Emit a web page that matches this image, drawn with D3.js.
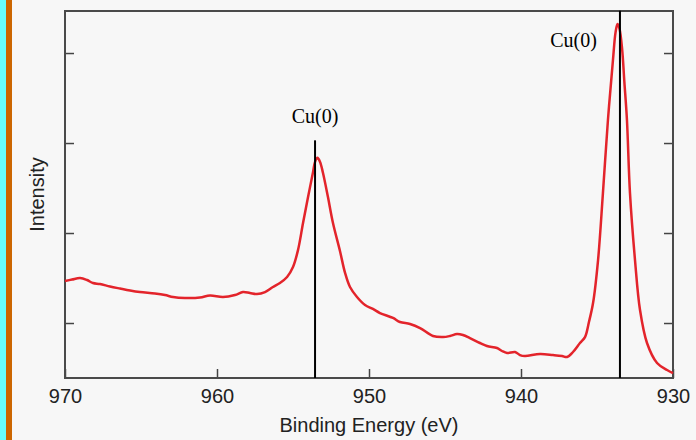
<!DOCTYPE html>
<html>
<head>
<meta charset="utf-8">
<title>Cu 2p spectrum</title>
<style>
    body { margin: 0; background: #f7f7f7; }
    svg { display: block; }
    .tick text { font-family: 'Liberation Sans', Arial, sans-serif; font-size: 20px; fill: #222; }
    .tick line { stroke: #444; stroke-width: 1.5px; }
</style>
</head>
<body>
<div id="chart"></div>
<script src="https://d3js.org/d3.v7.min.js"></script>
<script>
// binding energy (eV)
var energy = [970.00, 969.54, 969.01, 968.55, 968.16, 967.70, 967.04, 966.38, 965.72, 965.07,
    964.08, 963.42, 962.89, 962.11, 961.12, 960.46, 959.61, 958.82, 958.29, 957.83,
    957.37, 956.84, 956.32, 955.86, 955.39, 955.00, 954.67, 954.34, 954.01, 953.68,
    953.55, 953.39, 953.22, 953.03, 952.70, 952.37, 951.91, 951.58, 951.25, 950.79, 950.26,
    949.74, 949.28, 948.42, 947.96, 947.30, 946.64, 945.79, 945.13, 944.67, 944.21,
    943.82, 943.36, 942.70, 942.24, 941.58, 941.25, 940.92, 940.39, 940.07, 939.74,
    938.75, 937.89, 937.30, 936.97, 936.58, 936.12, 935.79, 935.53, 935.26, 934.93,
    934.61, 934.28, 933.95, 933.78, 933.65, 933.52, 933.35, 933.20, 933.03, 932.83, 932.50,
    932.17, 931.71, 931.05, 930.39, 930.00];

// intensity (arbitrary units)
var intensity = [1.467, 1.483, 1.500, 1.478, 1.444, 1.433, 1.406, 1.383, 1.361, 1.344,
    1.328, 1.311, 1.289, 1.278, 1.283, 1.306, 1.289, 1.311, 1.344, 1.333,
    1.322, 1.344, 1.400, 1.444, 1.511, 1.622, 1.811, 2.111, 2.400, 2.678,
    2.790, 2.835, 2.790, 2.670, 2.400, 2.111, 1.800, 1.560, 1.400, 1.289, 1.200,
    1.156, 1.111, 1.056, 1.011, 0.989, 0.944, 0.856, 0.844, 0.856, 0.878,
    0.867, 0.833, 0.778, 0.744, 0.722, 0.689, 0.667, 0.678, 0.644, 0.633,
    0.656, 0.644, 0.633, 0.622, 0.678, 0.778, 0.844, 1.011, 1.222, 1.700,
    2.444, 3.256, 3.922, 4.230, 4.322, 4.270, 4.050, 3.680, 3.256, 2.444, 1.700,
    1.144, 0.778, 0.556, 0.478, 0.444];

var xTicks = [970, 960, 950, 940, 930];
var yTicks = [1, 2, 3, 4];

// peak markers
var peakEnergy = [953.55, 933.49];
var peakLabel = ["Cu(0)", "Cu(0)"];
var peakLineTop = [3.03, 4.47];

var width = 696, height = 440;
var plotLeft = 65, plotRight = 673, plotTop = 11, plotBottom = 378;

var x = d3.scaleLinear().domain([970, 930]).range([plotLeft, plotRight]);
var y = d3.scaleLinear().domain([0.389, 4.467]).range([plotBottom, plotTop]);

var svg = d3.select("#chart").append("svg")
    .attr("width", width)
    .attr("height", height);

// coloured strips on the left edge
svg.append("rect").attr("x", 0).attr("y", 0).attr("width", 6).attr("height", height).attr("fill", "#66ffff");
svg.append("rect").attr("x", 6).attr("y", 0).attr("width", 6).attr("height", height).attr("fill", "#cc6600");

// axes (ticks point inwards)
svg.append("g")
    .attr("transform", "translate(0," + plotBottom + ")")
    .call(d3.axisBottom(x).tickValues(xTicks).tickSize(-9).tickPadding(11).tickFormat(d3.format("d")))
    .call(function(g){ g.select(".domain").remove(); });

svg.append("g")
    .attr("transform", "translate(" + plotLeft + ",0)")
    .call(d3.axisLeft(y).tickValues(yTicks).tickSize(-9).tickFormat(""))
    .call(function(g){ g.select(".domain").remove(); });

svg.append("g")
    .attr("transform", "translate(" + plotRight + ",0)")
    .call(d3.axisRight(y).tickValues(yTicks).tickSize(-9).tickFormat(""))
    .call(function(g){ g.select(".domain").remove(); });

// frame
svg.append("rect")
    .attr("x", plotLeft).attr("y", plotTop)
    .attr("width", plotRight - plotLeft).attr("height", plotBottom - plotTop)
    .attr("fill", "none")
    .attr("stroke", "#4a4a4a")
    .attr("stroke-width", 2);

// spectrum
var data = energy.map(function(e, i){ return { e: e, v: intensity[i] }; });

var line = d3.line()
    .x(function(d){ return x(d.e); })
    .y(function(d){ return y(d.v); })
    .curve(d3.curveCatmullRom.alpha(0.5));

svg.append("path")
    .datum(data)
    .attr("d", line)
    .attr("fill", "none")
    .attr("stroke", "#e3242b")
    .attr("stroke-width", 2.5)
    .attr("stroke-linejoin", "round");

// peak lines and labels
peakEnergy.forEach(function(e, i){
    svg.append("line")
        .attr("x1", x(e)).attr("x2", x(e))
        .attr("y1", y(peakLineTop[i])).attr("y2", plotBottom)
        .attr("stroke", "#000")
        .attr("stroke-width", 2);
});

svg.append("text")
    .attr("x", x(peakEnergy[0]))
    .attr("y", 123)
    .attr("text-anchor", "middle")
    .style("font-family", "'Liberation Serif', 'Times New Roman', serif")
    .style("font-size", "20px")
    .text(peakLabel[0]);

svg.append("text")
    .attr("x", x(peakEnergy[1]) - 23)
    .attr("y", 47)
    .attr("text-anchor", "end")
    .style("font-family", "'Liberation Serif', 'Times New Roman', serif")
    .style("font-size", "20px")
    .text(peakLabel[1]);

// axis titles
svg.append("text")
    .attr("x", (plotLeft + plotRight) / 2)
    .attr("y", 432)
    .attr("text-anchor", "middle")
    .style("font-family", "'Liberation Sans', Arial, sans-serif")
    .style("font-size", "20px")
    .style("fill", "#222")
    .text("Binding Energy (eV)");

svg.append("text")
    .attr("transform", "translate(44," + ((plotTop + plotBottom) / 2) + ") rotate(-90)")
    .attr("text-anchor", "middle")
    .style("font-family", "'Liberation Sans', Arial, sans-serif")
    .style("font-size", "20px")
    .style("fill", "#222")
    .text("Intensity");
</script>
</body>
</html>
